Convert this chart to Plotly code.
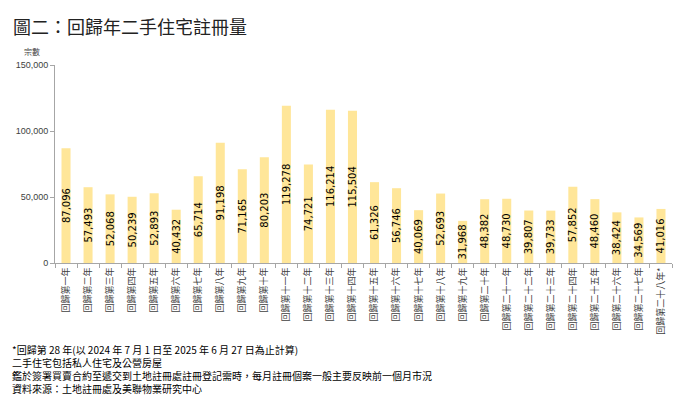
import plotly.graph_objects as go

categories = ["回歸第一年", "回歸第二年", "回歸第三年", "回歸第四年", "回歸第五年", "回歸第六年",
              "回歸第七年", "回歸第八年", "回歸第九年", "回歸第十年", "回歸第十一年", "回歸第十二年",
              "回歸第十三年", "回歸第十四年", "回歸第十五年", "回歸第十六年", "回歸第十七年", "回歸第十八年",
              "回歸第十九年", "回歸第二十年", "回歸第二十一年", "回歸第二十二年", "回歸第二十三年",
              "回歸第二十四年", "回歸第二十五年", "回歸第二十六年", "回歸第二十七年", "回歸第二十八年*"]
values = [87096, 57493, 52068, 50239, 52893, 40432, 65714, 91198, 71165, 80203, 119278, 74721,
          116214, 115504, 61326, 56746, 40069, 52693, 31968, 48382, 48730, 39807, 39733, 57852,
          48460, 38424, 34569, 41016]
y_ticks = [0, 50000, 100000, 150000]
y_tick_labels = ["0", "50,000", "100,000", "150,000"]

title_text = "圖二：回歸年二手住宅註冊量"
y_unit = "宗數"
notes = ["*回歸第 28 年(以 2024 年 7 月 1 日至 2025 年 6 月 27 日為止計算)",
         "二手住宅包括私人住宅及公營房屋",
         "鑑於簽署買賣合約至遞交到土地註冊處註冊登記需時，每月註冊個案一般主要反映前一個月市況",
         "資料來源：土地註冊處及美聯物業研究中心"]

CJK = "Noto Sans CJK TC"

# page body has an 8px margin; size/margins compensate so the plot sits where the reference has it
W, H = 678, 406
ML, MR, MT, MB = 47, 14, 57, 151
PW, PH = W - ML - MR, H - MT - MB

fig = go.Figure()
fig.add_trace(go.Bar(
    x=categories, y=values,
    marker=dict(color="#FFE699", line=dict(width=0)),
    text=[f"{v:,}" for v in values],
    textposition="inside",
    insidetextanchor="middle",
    textangle=-90,
    textfont=dict(family="DejaVu Sans", size=10, color="#000000"),
    cliponaxis=False,
    hoverinfo="skip",
))

fig.update_layout(
    width=W, height=H,
    margin=dict(l=ML, r=MR, t=MT, b=MB, autoexpand=False),
    paper_bgcolor="white", plot_bgcolor="white",
    bargap=0.59,
    showlegend=False,
    uniformtext=dict(minsize=10, mode="show"),
    xaxis=dict(
        type="category",
        tickangle=-90,
        tickfont=dict(family=CJK, size=9, color="#404040"),
        showline=True, linecolor="#A6A6A6", linewidth=1,
        ticks="outside", ticklen=4, tickcolor="#A6A6A6",
        tickson="boundaries",
        showgrid=False, zeroline=False,
        range=[-0.5, len(categories) - 0.5],
    ),
    yaxis=dict(
        range=[0, 150200],
        tickvals=y_ticks, ticktext=y_tick_labels,
        tickfont=dict(family="Liberation Sans", size=9, color="#404040"),
        showline=True, linecolor="#A6A6A6", linewidth=1,
        ticks="outside", ticklen=4, tickcolor="#A6A6A6",
        showgrid=False, zeroline=False,
    ),
)

def px_x(x):  # page x -> paper coords
    return (x - 8 - ML) / PW

def px_y(y):  # page y -> paper coords
    return 1 - (y - 8 - MT) / PH

fig.add_annotation(text=title_text, xref="paper", yref="paper", x=px_x(11), y=px_y(26),
                   xanchor="left", yanchor="middle", showarrow=False,
                   font=dict(family=CJK, size=18, color="#222222"))
fig.add_annotation(text=y_unit, xref="paper", yref="paper", x=px_x(32), y=px_y(52),
                   xanchor="center", yanchor="middle", showarrow=False,
                   font=dict(family=CJK, size=8, color="#404040"))
fig.add_annotation(text="<br>".join(notes), xref="paper", yref="paper", x=px_x(10), y=px_y(369),
                   xanchor="left", yanchor="middle", align="left", showarrow=False,
                   font=dict(family=CJK, size=10, color="#000000"))

fig.write_html("out.html")
